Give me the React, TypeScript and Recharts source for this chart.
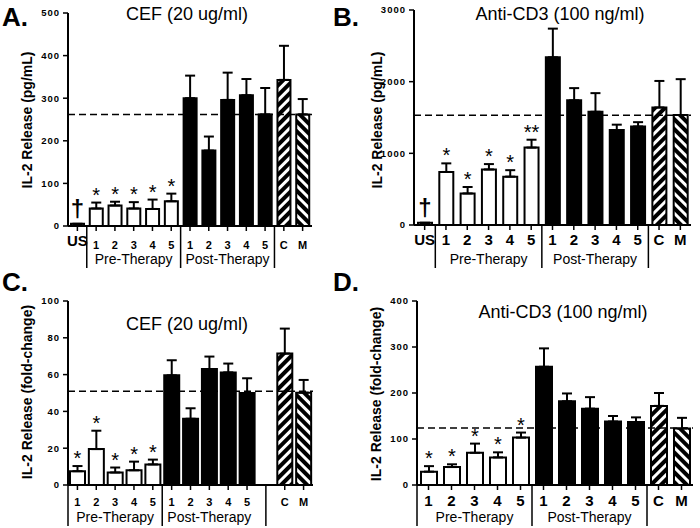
import React from 'react';
import { BarChart, Bar, XAxis, YAxis, ErrorBar, ReferenceLine, Cell, LabelList } from 'recharts';

const FONT = "'Liberation Sans', Arial, Helvetica, sans-serif";

// ---------- Data ----------
const catsAB = ['US', '1', '2', '3', '4', '5', '1', '2', '3', '4', '5', 'C', 'M'];
const groupsAB = ['US', 'pre', 'pre', 'pre', 'pre', 'pre', 'post', 'post', 'post', 'post', 'post', 'C', 'M'];

const catsC = ['1', '2', '3', '4', '5', '1', '2', '3', '4', '5', '', 'C', 'M'];
const groupsC = ['pre', 'pre', 'pre', 'pre', 'pre', 'post', 'post', 'post', 'post', 'post', 'gap', 'C', 'M'];

const catsD = ['1', '2', '3', '4', '5', '1', '2', '3', '4', '5', 'C', 'M'];
const groupsD = ['pre', 'pre', 'pre', 'pre', 'pre', 'post', 'post', 'post', 'post', 'post', 'C', 'M'];

const valuesA = [5, 41, 48, 41, 40, 58, 300, 177, 296, 307, 262, 343, 262];
const errorsA = [0, 14, 9, 15, 22, 18, 53, 33, 64, 38, 62, 80, 36];
const marksA = ['†', '*', '*', '*', '*', '*', '', '', '', '', '', '', ''];
const refA = 262;
const ticksA = [0, 100, 200, 300, 400, 500];

const valuesB = [30, 740, 440, 775, 675, 1080, 2340, 1740, 1580, 1325, 1375, 1640, 1535];
const errorsB = [0, 120, 90, 75, 90, 110, 400, 170, 260, 75, 60, 370, 500];
const marksB = ['†', '*', '*', '*', '*', '**', '', '', '', '', '', '', ''];
const refB = 1530;
const ticksB = [0, 1000, 2000, 3000];

const valuesC = [7.5, 19.5, 6.8, 8, 11.2, 59.6, 36, 63, 61.2, 50, null, 71.4, 50.2];
const errorsC = [2.8, 10, 2.7, 4.7, 2.6, 8.2, 5.7, 6.8, 4.8, 8, null, 13.6, 6.9];
const marksC = ['*', '*', '*', '*', '*', '', '', '', '', '', '', '', ''];
const refC = 51;
const ticksC = [0, 20, 40, 60, 80, 100];

const valuesD = [29, 39, 70, 60, 103, 257, 182, 166, 138, 137, 172, 123];
const errorsD = [12, 6, 20, 11, 11, 40, 17, 25, 12, 10, 28, 23];
const marksD = ['*', '*', '*', '*', '*', '', '', '', '', '', '', ''];
const refD = 124;
const ticksD = [0, 100, 200, 300, 400];

const groupLabels = ['Pre-Therapy', 'Post-Therapy'];

type Row = { cat: string; group: string; value: number | null; err: number | null; mark: string };
const build = (cats: string[], groups: string[], vals: (number | null)[], errs: (number | null)[], marks: string[]): Row[] =>
  cats.map((c, i) => ({ cat: c, group: groups[i], value: vals[i], err: errs[i], mark: marks[i] }));

const dataA = build(catsAB, groupsAB, valuesA, errorsA, marksA);
const dataB = build(catsAB, groupsAB, valuesB, errorsB, marksB);
const dataC = build(catsC, groupsC, valuesC, errorsC, marksC);
const dataD = build(catsD, groupsD, valuesD, errorsD, marksD);

// ---------- Layout ----------
type Panel = {
  key: string;
  data: Row[];
  ticks: number[];
  ref: number;
  left: number; top: number; w: number; h: number;
  plotLeft: number; plotRight: number; plotTop: number; plotBottom: number;
  barSize: number;
  numFont: number; usFont: number;
  numDy: number; usDy: number; groupDy: number; sepLen: number;
  seps: number[];
  groupSpans: [number, number][];
  letter: string; letterX: number; letterY: number;
  title: string; titleX: number; titleY: number;
  yLabel: string; yLabelX: number; yLabelY: number;
};

const panels: Panel[] = [
  {
    key: 'A', data: dataA, ticks: ticksA, ref: refA,
    left: 0, top: 0, w: 350, h: 280,
    plotLeft: 68, plotRight: 312, plotTop: 13, plotBottom: 226,
    barSize: 13, numFont: 11, usFont: 15, numDy: 23, usDy: 20, groupDy: 38, sepLen: 42,
    seps: [1, 6, 11], groupSpans: [[1, 6], [6, 11]],
    letter: 'A.', letterX: 2, letterY: 4,
    title: 'CEF (20 ug/ml)', titleX: 187, titleY: 3,
    yLabel: 'IL-2 Release (pg/mL)', yLabelX: 27, yLabelY: 120,
  },
  {
    key: 'B', data: dataB, ticks: ticksB, ref: refB,
    left: 350, top: 0, w: 350, h: 280,
    plotLeft: 64, plotRight: 341, plotTop: 10, plotBottom: 225,
    barSize: 14, numFont: 15, usFont: 15, numDy: 20, usDy: 20, groupDy: 39, sepLen: 43,
    seps: [1, 6, 11], groupSpans: [[1, 6], [6, 11]],
    letter: 'B.', letterX: 333, letterY: 4,
    title: 'Anti-CD3 (100 ng/ml)', titleX: 560, titleY: 3,
    yLabel: 'IL-2 Release (pg/mL)', yLabelX: 377, yLabelY: 120,
  },
  {
    key: 'C', data: dataC, ticks: ticksC, ref: refC,
    left: 0, top: 264, w: 350, h: 264,
    plotLeft: 68, plotRight: 313, plotTop: 37, plotBottom: 221,
    barSize: 15, numFont: 11, usFont: 11, numDy: 21, usDy: 21, groupDy: 37, sepLen: 41,
    seps: [0, 5, 10.5], groupSpans: [[0, 5], [5, 10]],
    letter: 'C.', letterX: 2, letterY: 269,
    title: 'CEF (20 ug/ml)', titleX: 187, titleY: 313,
    yLabel: 'IL-2 Release (fold-change)', yLabelX: 27, yLabelY: 392,
  },
  {
    key: 'D', data: dataD, ticks: ticksD, ref: refD,
    left: 350, top: 264, w: 350, h: 264,
    plotLeft: 67, plotRight: 343, plotTop: 37, plotBottom: 221,
    barSize: 16, numFont: 15, usFont: 15, numDy: 21, usDy: 21, groupDy: 37, sepLen: 41,
    seps: [0, 5, 10], groupSpans: [[0, 5], [5, 10]],
    letter: 'D.', letterX: 333, letterY: 269,
    title: 'Anti-CD3 (100 ng/ml)', titleX: 563, titleY: 301,
    yLabel: 'IL-2 Release (fold-change)', yLabelX: 376, yLabelY: 394,
  },
];

const Y_W = 40;
const X_H = 30;

const fillFor = (g: string) => {
  if (g === 'post') return '#000';
  if (g === 'C') return 'url(#hatchC)';
  if (g === 'M') return 'url(#hatchM)';
  return '#fff';
};

const makeXTick = (p: Panel) => (props: any) => {
  const { x, y, payload } = props;
  const index: number = props.index ?? payload?.index ?? 0;
  const label: string = payload?.value ?? '';
  const n = p.data.length;
  const band = (p.plotRight - p.plotLeft) / n;
  const x0 = x - (index + 0.5) * band;
  const isUS = label === 'US';
  return (
    <g>
      {label !== '' && (
        <line x1={x} y1={y} x2={x} y2={y + 5} stroke="#000" strokeWidth={1.5} />
      )}
      {label !== '' && (
        <text
          x={x}
          y={y + (isUS ? p.usDy : p.numDy)}
          textAnchor="middle"
          fontFamily={FONT}
          fontWeight="bold"
          fontSize={isUS ? p.usFont : p.numFont}
          fill="#000"
        >
          {label}
        </text>
      )}
      {index === 0 &&
        p.seps.map((s, i) => (
          <line key={'s' + i} x1={x0 + s * band} y1={y} x2={x0 + s * band} y2={y + p.sepLen} stroke="#000" strokeWidth={1.5} />
        ))}
      {index === 0 &&
        p.groupSpans.map((g, i) => (
          <text
            key={'g' + i}
            x={x0 + ((g[0] + g[1]) / 2) * band}
            y={y + p.groupDy}
            textAnchor="middle"
            fontFamily={FONT}
            fontSize={14}
            fill="#000"
          >
            {groupLabels[i]}
          </text>
        ))}
    </g>
  );
};

const makeMark = (p: Panel) => (props: any) => {
  const vb = props.viewBox || props;
  const bx = vb.x ?? props.x;
  const by = vb.y ?? props.y;
  const bw = vb.width ?? props.width;
  const index: number = props.index;
  const row = p.data[index];
  const mark = props.value ?? row?.mark;
  if (!mark || !row || row.value == null) return null;
  const yMax = p.ticks[p.ticks.length - 1];
  const pxPerUnit = (p.plotBottom - p.plotTop) / yMax;
  const errTop = by - (row.err || 0) * pxPerUnit;
  const cx = bx + bw / 2;
  if (mark === '†') {
    return (
      <text x={cx} y={by - 7} textAnchor="middle" fontFamily={FONT} fontWeight="bold" fontSize={24} fill="#000">
        {mark}
      </text>
    );
  }
  return (
    <text x={cx} y={errTop - 1} textAnchor="middle" fontFamily={FONT} fontSize={20} fill="#000">
      {mark}
    </text>
  );
};

const PanelChart = ({ p }: { p: Panel }) => {
  const margin = {
    top: p.plotTop,
    right: p.w - p.plotRight,
    left: p.plotLeft - Y_W,
    bottom: p.h - p.plotBottom - X_H,
  };
  const yMax = p.ticks[p.ticks.length - 1];
  return (
    <div style={{ position: 'absolute', left: p.left, top: p.top, width: p.w, height: p.h }}>
      <BarChart width={p.w} height={p.h} data={p.data} margin={margin} barCategoryGap={0}>
        <XAxis
          dataKey="cat"
          height={X_H}
          interval={0}
          tickSize={0}
          tickMargin={0}
          tickLine={false}
          axisLine={{ stroke: '#000', strokeWidth: 2 }}
          tick={makeXTick(p)}
        />
        <YAxis
          width={Y_W}
          domain={[0, yMax]}
          ticks={p.ticks}
          interval={0}
          allowDataOverflow
          tickSize={5}
          tickMargin={3}
          axisLine={{ stroke: '#000', strokeWidth: 2 }}
          tickLine={{ stroke: '#000', strokeWidth: 1.5 }}
          tick={{ fontFamily: FONT, fontSize: 9.5, fontWeight: 'bold', fill: '#000', letterSpacing: 1 }}
        />
        <ReferenceLine y={p.ref} stroke="#000" strokeWidth={1.5} strokeDasharray="7 4" />
        <Bar dataKey="value" barSize={p.barSize} isAnimationActive={false} stroke="#000" strokeWidth={2}>
          {p.data.map((d, i) => (
            <Cell key={i} fill={fillFor(d.group)} />
          ))}
          <ErrorBar
            dataKey={(d: Row) => (d.err == null ? null : [0, d.err])}
            direction="y"
            width={5}
            stroke="#000"
            strokeWidth={2}
            isAnimationActive={false}
          />
          <LabelList dataKey="mark" content={makeMark(p)} />
        </Bar>
      </BarChart>
    </div>
  );
};

export default function App() {
  return (
    <div style={{ position: 'absolute', left: 0, top: 0, width: 700, height: 528, background: '#fff', overflow: 'hidden', fontFamily: FONT }}>
      <svg width={0} height={0} style={{ position: 'absolute' }}>
        <defs>
          <pattern id="hatchC" patternUnits="userSpaceOnUse" width={7} height={7} patternTransform="rotate(45)">
            <rect width={7} height={7} fill="#000" />
            <rect width={3} height={7} fill="#fff" />
          </pattern>
          <pattern id="hatchM" patternUnits="userSpaceOnUse" width={7} height={7} patternTransform="rotate(-45)">
            <rect width={7} height={7} fill="#000" />
            <rect width={3} height={7} fill="#fff" />
          </pattern>
        </defs>
      </svg>
      {panels.map((p) => (
        <PanelChart key={p.key} p={p} />
      ))}
      {panels.map((p) => (
        <React.Fragment key={'t' + p.key}>
          <div style={{ position: 'absolute', left: p.letterX, top: p.letterY, fontSize: 26, fontWeight: 'bold', lineHeight: '26px', color: '#000' }}>
            {p.letter}
          </div>
          <div style={{ position: 'absolute', left: p.titleX, top: p.titleY, transform: 'translateX(-50%)', fontSize: 18, lineHeight: '22px', whiteSpace: 'nowrap', color: '#000' }}>
            {p.title}
          </div>
          <div
            style={{
              position: 'absolute',
              left: p.yLabelX,
              top: p.yLabelY,
              transform: 'translate(-50%, -50%) rotate(-90deg)',
              fontSize: 14,
              fontWeight: 'bold',
              lineHeight: '16px',
              whiteSpace: 'nowrap',
              color: '#000',
            }}
          >
            {p.yLabel}
          </div>
        </React.Fragment>
      ))}
    </div>
  );
}
